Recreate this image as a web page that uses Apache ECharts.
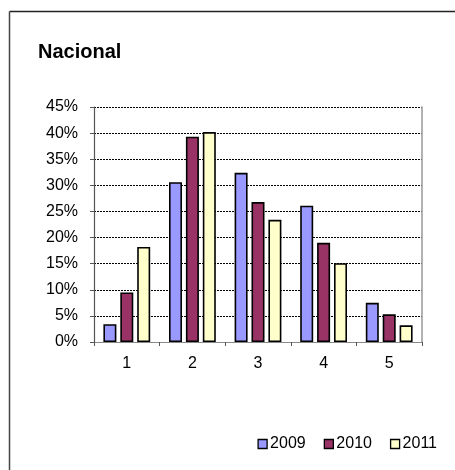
<!DOCTYPE html>
<html><head><meta charset="utf-8">
<script src="https://cdn.jsdelivr.net/npm/echarts@6/dist/echarts.min.js"></script>
<style>html,body{margin:0;padding:0;background:#fff}#c{width:455px;height:470px}</style>
</head><body><div id="c"></div>
<script>
var categories = ['1','2','3','4','5'];
var seriesNames = ['2009','2010','2011'];
var v2009 = [3.4, 30.6, 32.4, 26.1, 7.5];
var v2010 = [9.5, 39.3, 26.8, 19.0, 5.3];
var v2011 = [18.2, 40.2, 23.4, 15.1, 3.2];
var colors = ['#9999FF','#993366','#FFFFCC'];
var values = [v2009, v2010, v2011];

var chart = echarts.init(document.getElementById('c'));
var font = 'Arial, "Liberation Sans", sans-serif';
chart.setOption({
  animation: false,
  title: {text: 'Nacional', left: 33, top: 37, textStyle: {fontFamily: font, fontSize: 20, fontWeight: 'bold', color: '#000'}},
  graphic: [
    {type: 'line', shape: {x1: 9.5, y1: 11.5, x2: 455, y2: 11.5}, style: {stroke: '#222', lineWidth: 1.5}},
    {type: 'line', shape: {x1: 9.5, y1: 11.5, x2: 9.5, y2: 470}, style: {stroke: '#444', lineWidth: 1.5}}
  ],
  legend: {right: 13, top: 431, width: 250, itemWidth: 9, itemHeight: 9, itemGap: 18, icon: 'rect',
    textStyle: {fontFamily: font, fontSize: 16, color: '#000', padding: [0,0,0,-2]},
    data: seriesNames.map(function(n){return {name: n, itemStyle: {borderColor: '#000', borderWidth: 1.3}};})},
  grid: {left: 94, right: 33, top: 107, bottom: 128},
  xAxis: [{type: 'category', data: categories,
    axisLine: {lineStyle: {color: '#555', width: 1.2}},
    axisTick: {show: true, length: 4, lineStyle: {color: '#555'}},
    axisLabel: {fontFamily: font, fontSize: 16, color: '#000', margin: 14}},
    {type: 'category', data: categories, position: 'top',
    axisLine: {show: true, lineStyle: {color: '#888', width: 1.2}},
    axisTick: {show: false}, axisLabel: {show: false}}],
  yAxis: [{type: 'value', min: 0, max: 45, interval: 5,
    axisLine: {show: true, lineStyle: {color: '#555', width: 1.2}},
    axisTick: {show: true, length: 4, lineStyle: {color: '#555'}},
    splitLine: {show: true, lineStyle: {color: '#000', type: [2,1], width: 1}},
    axisLabel: {fontFamily: font, fontSize: 16, color: '#000', margin: 16, formatter: '{value}%'}},
    {type: 'value', min: 0, max: 45, interval: 5, position: 'right',
    axisLine: {show: true, lineStyle: {color: '#999', width: 1.5}},
    axisTick: {show: false}, axisLabel: {show: false}, splitLine: {show: false}}],
  series: seriesNames.map(function(n, i){
    return {name: n, type: 'bar', data: values[i], barWidth: 13, barGap: '30%',
      itemStyle: {color: colors[i], borderColor: '#000', borderWidth: 1.6}};
  })
});
</script></body></html>
